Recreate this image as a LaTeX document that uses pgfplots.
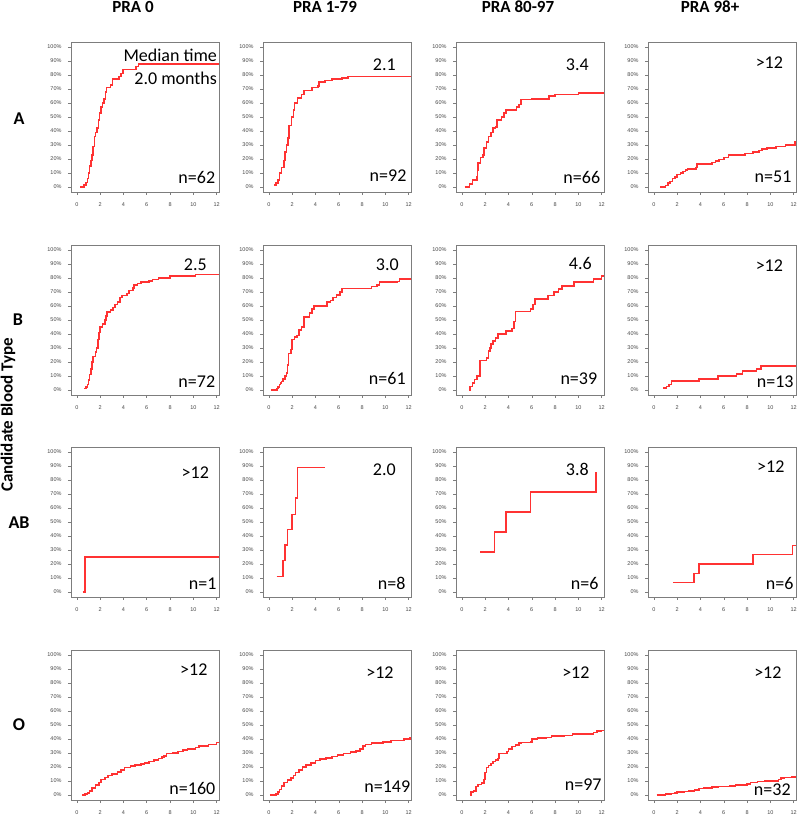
\documentclass[border=0pt]{standalone}
\usepackage{fontspec}
\setmainfont{Carlito}
\newfontfamily\tickfont{Liberation Sans}
\usepackage{pgfplots}
\pgfplotsset{compat=1.18}
\definecolor{krred}{RGB}{255,50,50}
\definecolor{frame}{RGB}{125,125,125}
\definecolor{ticktext}{RGB}{70,70,70}
\pgfplotsset{panel/.style={
  scale only axis, width=148pt, height=150pt, anchor=south west,
  xmin=-0.5, xmax=12.2, ymin=-3.6, ymax=103.6,
  xtick={0,2,...,12}, ytick={0,10,...,100},
  /pgf/number format/assume math mode=true,
  yticklabel={\pgfmathprintnumber{\tick}\%},
  tick align=outside, tick pos=left, major tick length=3pt,
  tick style={frame, line width=0.5pt},
  axis line style={frame, line width=0.8pt},
  ticklabel style={font=\tickfont\fontsize{5.5}{6}\selectfont, text=ticktext},
  xticklabel shift=4pt, yticklabel shift=3pt,
  clip=false,
},
km/.style={draw=krred, line width=1.6pt, const plot, mark=none}}
\tikzset{ann/.style={font=\fontsize{18}{20}\selectfont}}
\begin{document}
\begin{tikzpicture}
\path[use as bounding box] (0,0) rectangle (800pt,819pt);
% headers
\node[font=\bfseries\fontsize{17}{20}\selectfont] at (133pt,812pt) {PRA 0};
\node[font=\bfseries\fontsize{17}{20}\selectfont] at (325pt,812pt) {PRA 1-79};
\node[font=\bfseries\fontsize{17}{20}\selectfont] at (518pt,812pt) {PRA 80-97};
\node[font=\bfseries\fontsize{17}{20}\selectfont] at (710pt,812pt) {PRA 98+};
\node[font=\bfseries\fontsize{18}{20}\selectfont] at (19pt,700pt) {A};
\node[font=\bfseries\fontsize{18}{20}\selectfont] at (18pt,499pt) {B};
\node[font=\bfseries\fontsize{18}{20}\selectfont] at (19pt,296pt) {AB};
\node[font=\bfseries\fontsize{18}{20}\selectfont] at (19pt,94pt) {O};
\node[font=\bfseries\fontsize{17}{20}\selectfont, rotate=90] at (8pt,404pt) {Candidate Blood Type};

% ---------- Row A ----------
\begin{axis}[panel, at={(71pt,627pt)}]
\addplot[km] coordinates {(0.3,0)(0.6,1.6)(0.8,3.2)(0.9,6)(1.0,10)(1.1,15)(1.2,19)(1.3,23)(1.4,29)(1.5,36)(1.6,39)(1.75,42)(1.85,48)(1.95,53)(2.05,57)(2.2,60)(2.35,63)(2.45,68)(2.55,71)(2.9,73)(3.05,77)(3.6,79)(3.8,81)(3.95,84)(5.1,86)(5.3,88)(12.2,88)};
\node[ann, anchor=east] at (rel axis cs:1.01,0.913) {Median time};
\node[ann, anchor=east] at (rel axis cs:1.01,0.76) {2.0 months};
\node[ann] at (rel axis cs:0.85,0.10) {n=62};
\end{axis}
\begin{axis}[panel, at={(263pt,627pt)}]
\addplot[km] coordinates {(0.43,1.4)(0.6,3)(0.8,5)(0.9,10)(1.1,14)(1.3,19)(1.4,25)(1.5,30)(1.65,35)(1.75,44)(1.95,50)(2.1,55)(2.2,60)(2.45,63.5)(2.8,66)(3.0,69)(3.7,71)(4.2,72)(4.3,75)(4.8,76)(5.4,77)(6.3,78)(6.8,79)(12.2,79)};
\node[ann] at (rel axis cs:0.82,0.85) {2.1};
\node[ann] at (rel axis cs:0.845,0.11) {n=92};
\end{axis}
\begin{axis}[panel, at={(456pt,627pt)}]
\addplot[km] coordinates {(0.23,0)(0.66,2)(0.9,5)(1.3,7)(1.35,12)(1.4,17)(1.6,21)(1.8,23)(1.9,28)(2.1,32)(2.3,36)(2.5,39)(2.7,42)(2.9,43)(3.0,48)(3.4,50)(3.6,53)(3.8,55)(4.7,57)(4.9,59)(5.1,62.5)(6.0,63)(7.5,65)(8.0,66)(10.0,67)(12.2,67)};
\node[ann] at (rel axis cs:0.82,0.85) {3.4};
\node[ann] at (rel axis cs:0.85,0.10) {n=66};
\end{axis}
\begin{axis}[panel, at={(648pt,627pt)}]
\addplot[km] coordinates {(0.57,0)(1.0,1)(1.2,3)(1.4,4)(1.6,6)(1.8,7)(2.0,9)(2.3,10)(2.5,11)(2.7,12)(2.9,13)(3.6,14)(3.7,16.5)(5.0,17.5)(5.3,18.5)(5.6,19.5)(6.0,21)(6.4,23)(7.8,24)(8.5,25)(9.0,26)(9.3,27)(9.7,28)(10.5,29)(11.3,30)(12.1,32)(12.2,32)};
\node[ann] at (rel axis cs:0.82,0.86) {>12};
\node[ann] at (rel axis cs:0.845,0.10) {n=51};
\end{axis}

% ---------- Row B ----------
\begin{axis}[panel, at={(71pt,424pt)}]
\addplot[km] coordinates {(0.63,1)(0.8,2)(0.9,4)(1.0,7)(1.1,11)(1.2,15)(1.3,20)(1.4,24)(1.6,27)(1.7,30)(1.8,36)(1.9,41)(2.0,45)(2.2,47)(2.4,50)(2.5,53)(2.6,55.5)(2.9,57)(3.1,59)(3.3,61)(3.5,63)(3.7,66)(3.9,67.5)(4.3,69)(4.5,71)(4.8,73)(4.9,75)(5.2,76)(5.5,77)(6.2,78)(6.5,79)(7.0,80)(8.0,81.5)(10.2,82.5)(12.2,82.5)};
\node[ann] at (rel axis cs:0.84,0.87) {2.5};
\node[ann] at (rel axis cs:0.85,0.09) {n=72};
\end{axis}
\begin{axis}[panel, at={(263pt,424pt)}]
\addplot[km] coordinates {(0.2,0)(0.7,1)(0.8,2)(0.9,4)(1.0,5)(1.1,6)(1.2,8)(1.4,10)(1.5,12)(1.6,18)(1.7,26)(1.9,29)(2.0,36)(2.2,38)(2.4,39)(2.6,43)(2.8,45)(3.0,52)(3.4,52)(3.5,55)(3.7,58)(3.9,60)(5.0,63)(5.3,64)(5.5,66)(5.8,68)(6.1,70)(6.3,72.5)(8.8,74)(9.3,75)(9.5,77)(11.0,77.5)(11.2,79.5)(12.2,79.5)};
\node[ann] at (rel axis cs:0.84,0.87) {3.0};
\node[ann] at (rel axis cs:0.84,0.11) {n=61};
\end{axis}
\begin{axis}[panel, at={(456pt,424pt)}]
\addplot[km] coordinates {(0.6,0)(0.7,2.5)(0.9,5)(1.1,7.5)(1.3,10)(1.55,21)(2.1,23)(2.3,28)(2.4,30)(2.5,33)(2.7,35)(2.9,37)(3.1,40)(3.8,42)(4.3,44)(4.5,49)(4.6,56)(5.9,58)(6.1,61)(6.3,65)(7.4,67.5)(7.9,70)(8.3,72)(8.6,74.5)(9.6,77)(11.3,79.5)(12.0,81.5)(12.2,81.5)};
\node[ann] at (rel axis cs:0.84,0.88) {4.6};
\node[ann] at (rel axis cs:0.83,0.11) {n=39};
\end{axis}
\begin{axis}[panel, at={(648pt,424pt)}]
\addplot[km] coordinates {(0.8,1.5)(1.1,2.5)(1.3,4)(1.5,6.5)(3.9,8)(5.5,10)(7.1,11.5)(7.6,13.5)(8.8,15)(9.2,17)(12.2,17)};
\node[ann] at (rel axis cs:0.82,0.86) {>12};
\node[ann] at (rel axis cs:0.86,0.09) {n=13};
\end{axis}

% ---------- Row AB ----------
\begin{axis}[panel, at={(71pt,222pt)}]
\addplot[km] coordinates {(0.5,0)(0.7,25)(12.2,25)};
\node[ann] at (rel axis cs:0.84,0.83) {>12};
\node[ann] at (rel axis cs:0.89,0.09) {n=1};
\end{axis}
\begin{axis}[panel, at={(263pt,222pt)}]
\addplot[km] coordinates {(0.66,11)(1.2,22.5)(1.4,33.5)(1.6,44.5)(2.0,55.5)(2.3,67)(2.45,89)(4.8,89)};
\node[ann] at (rel axis cs:0.82,0.85) {2.0};
\node[ann] at (rel axis cs:0.87,0.09) {n=8};
\end{axis}
\begin{axis}[panel, at={(456pt,222pt)}]
\addplot[km] coordinates {(1.57,28.5)(2.8,43)(3.8,57)(5.9,71.5)(11.5,85.7)};
\node[ann] at (rel axis cs:0.82,0.85) {3.8};
\node[ann] at (rel axis cs:0.87,0.09) {n=6};
\end{axis}
\begin{axis}[panel, at={(648pt,222pt)}]
\addplot[km] coordinates {(1.63,6.7)(3.45,13.3)(3.9,20)(8.5,26.7)(11.9,33.3)(12.2,33.3)};
\node[ann] at (rel axis cs:0.83,0.87) {>12};
\node[ann] at (rel axis cs:0.89,0.09) {n=6};
\end{axis}

% ---------- Row O ----------
\begin{axis}[panel, at={(71pt,19pt)}]
\addplot[km] coordinates {(0.43,0)(0.7,0.5)(0.9,1.5)(1.1,3)(1.3,5)(1.6,7)(1.9,9)(2.1,11)(2.4,12.5)(2.7,14)(3.0,15)(3.5,16.5)(3.8,18)(4.1,19.5)(4.6,20.5)(5.0,21.5)(5.5,22)(5.8,23)(6.2,24)(6.6,25)(7.0,26)(7.3,27)(7.5,28)(7.7,29.5)(8.2,30)(8.7,31)(9.1,32)(9.5,33)(10.2,34)(10.5,35)(11.3,36)(12.0,37.5)(12.2,37.5)};
\node[ann] at (rel axis cs:0.83,0.87) {>12};
\node[ann] at (rel axis cs:0.82,0.08) {n=160};
\end{axis}
\begin{axis}[panel, at={(263pt,19pt)}]
\addplot[km] coordinates {(0.1,0)(0.6,0.5)(0.8,2)(0.9,4)(1.1,6.5)(1.3,9)(1.6,10.5)(1.9,12)(2.1,14)(2.3,16)(2.6,18)(2.9,20)(3.2,21.5)(3.6,23)(4.0,24.5)(4.4,25.5)(4.9,26.5)(5.4,27.5)(5.9,28.5)(6.4,29.5)(7.0,30.5)(7.5,31.5)(7.8,33)(8.1,35)(8.3,36)(8.8,37)(9.8,38)(10.5,39)(11.6,40)(12.1,41)(12.2,41)};
\node[ann] at (rel axis cs:0.79,0.85) {>12};
\node[ann] at (rel axis cs:0.84,0.09) {n=149};
\end{axis}
\begin{axis}[panel, at={(456pt,19pt)}]
\addplot[km] coordinates {(0.66,0)(0.8,2)(1.0,3)(1.2,6)(1.4,7.5)(1.7,8.5)(1.9,11)(2.0,16)(2.1,19.5)(2.3,21)(2.5,22.5)(2.7,24)(2.9,25)(3.1,26)(3.2,29.5)(3.9,31)(4.0,33)(4.3,34.5)(4.6,35.5)(4.9,37)(5.1,37.5)(5.9,38)(6.0,40)(6.5,40.5)(7.2,41)(7.7,42)(8.8,42.5)(9.5,43.5)(11.3,44.5)(11.6,45.5)(12.0,46)(12.2,46)};
\node[ann] at (rel axis cs:0.81,0.85) {>12};
\node[ann] at (rel axis cs:0.86,0.10) {n=97};
\end{axis}
\begin{axis}[panel, at={(648pt,19pt)}]
\addplot[km] coordinates {(0.23,0)(1.0,0.5)(1.5,1)(1.8,1.5)(2.0,2)(2.6,2.5)(3.0,3)(3.5,3.5)(3.9,4.5)(4.3,5)(5.0,5.5)(5.5,6)(6.5,6.5)(7.0,7)(8.0,8)(8.3,9)(8.9,9.5)(9.5,10)(10.7,11)(10.9,12)(11.2,12.5)(11.8,13)(12.2,13)};
\node[ann] at (rel axis cs:0.81,0.85) {>12};
\node[ann] at (rel axis cs:0.84,0.07) {n=32};
\end{axis}
\end{tikzpicture}
\end{document}
